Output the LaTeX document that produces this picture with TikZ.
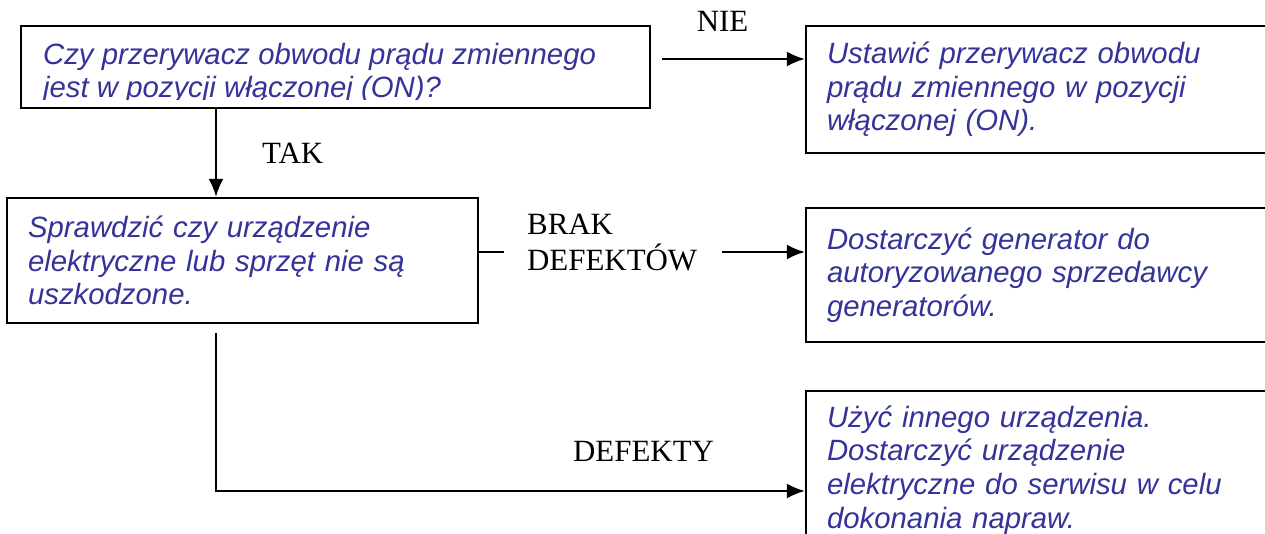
\documentclass[tikz,border=0pt]{standalone}
\usepackage{fontspec}
\setmainfont{Liberation Serif}
\newfontfamily\boxfont{Liberation Sans}
\usetikzlibrary{arrows.meta,calc}

\definecolor{boxblue}{RGB}{51,51,153}
\newcommand{\boxtext}{\boxfont\itshape\fontsize{16.7}{19.1}\selectfont}
\newcommand{\answertext}{\fontsize{17.6}{20.5}\selectfont}

\begin{document}
\begin{tikzpicture}[
		x=0.02cm, y=-0.02cm,
		line width=1.3pt,
		arrow/.style={-{Latex[length=0.36cm, width=0.3cm]}},
		boxtext/.style={align=left, font=\boxtext, text=boxblue},
		block/.style={draw, boxtext, inner xsep=0.42cm, inner ysep=0pt},
		answer/.style={inner sep=0pt, font=\answertext},
	]
		\useasboundingbox (0,0) rectangle (1265,534);
		\clip (0,0) rectangle (1265,534);

		% question box, its second line is cut off by the frame
		\node at (335.5,67) (check) [draw, minimum width=12.58cm, minimum height=1.64cm] {};
		\begin{scope}
			\clip (check.north west) rectangle ([yshift=0.2cm]check.south east);
			\node at (42,42) (checktext) [boxtext, anchor=north west, inner sep=0pt] {Czy przerywacz obwodu prądu zmiennego\\jest w pozycji włączonej (ON)?};
		\end{scope}

		\node at (1048,89.5) (seton) [block, minimum width=9.68cm, text width=8.84cm, minimum height=2.54cm] {Ustawić przerywacz obwodu\\prądu zmiennego w pozycji\\włączonej (ON).};
		\node at (242.5,260.5) (inspect) [block, minimum width=9.42cm, text width=8.58cm, minimum height=2.5cm] {Sprawdzić czy urządzenie\\elektryczne lub sprzęt nie są\\uszkodzone.};
		\node at (1048,275) (dealer) [block, minimum width=9.68cm, text width=8.84cm, minimum height=2.68cm] {Dostarczyć generator do\\autoryzowanego sprzedawcy\\generatorów.};
		\node at (1048,470) (service) [block, minimum width=9.68cm, text width=8.84cm, minimum height=3.16cm] {Użyć innego urządzenia.\\Dostarczyć urządzenie\\elektryczne do serwisu w celu\\dokonania napraw.};

		\coordinate (trunk) at (216,0);
		\node at (526,242.5) (nodefect) [answer, anchor=west, align=left] {BRAK\\DEFEKTÓW};

		\draw[arrow, shorten <=0.22cm] ([yshift=0.16cm]check.east) -- node[pos=0.465, answer, anchor=south, yshift=0.52cm]{NIE} ([yshift=0.16cm]check.east -| seton.west);
		\draw[arrow] (check.south -| trunk) -- node[pos=0.5, answer, anchor=west, xshift=0.9cm]{TAK} (inspect.north -| trunk);
		\draw[shorten >=0.44cm] ([yshift=0.17cm]inspect.east) -- ([yshift=0.17cm]inspect.east -| nodefect.west);
		\draw[arrow, shorten <=0.48cm] ([yshift=0.17cm]inspect.east -| nodefect.east) -- ([yshift=0.17cm]inspect.east -| dealer.west);
		\draw[arrow] ([yshift=-0.18cm]inspect.south -| trunk) |- node[pos=0.863, answer, anchor=south, yshift=0.56cm]{DEFEKTY} ([yshift=-0.42cm]service.west);
	\end{tikzpicture}
\end{document}
